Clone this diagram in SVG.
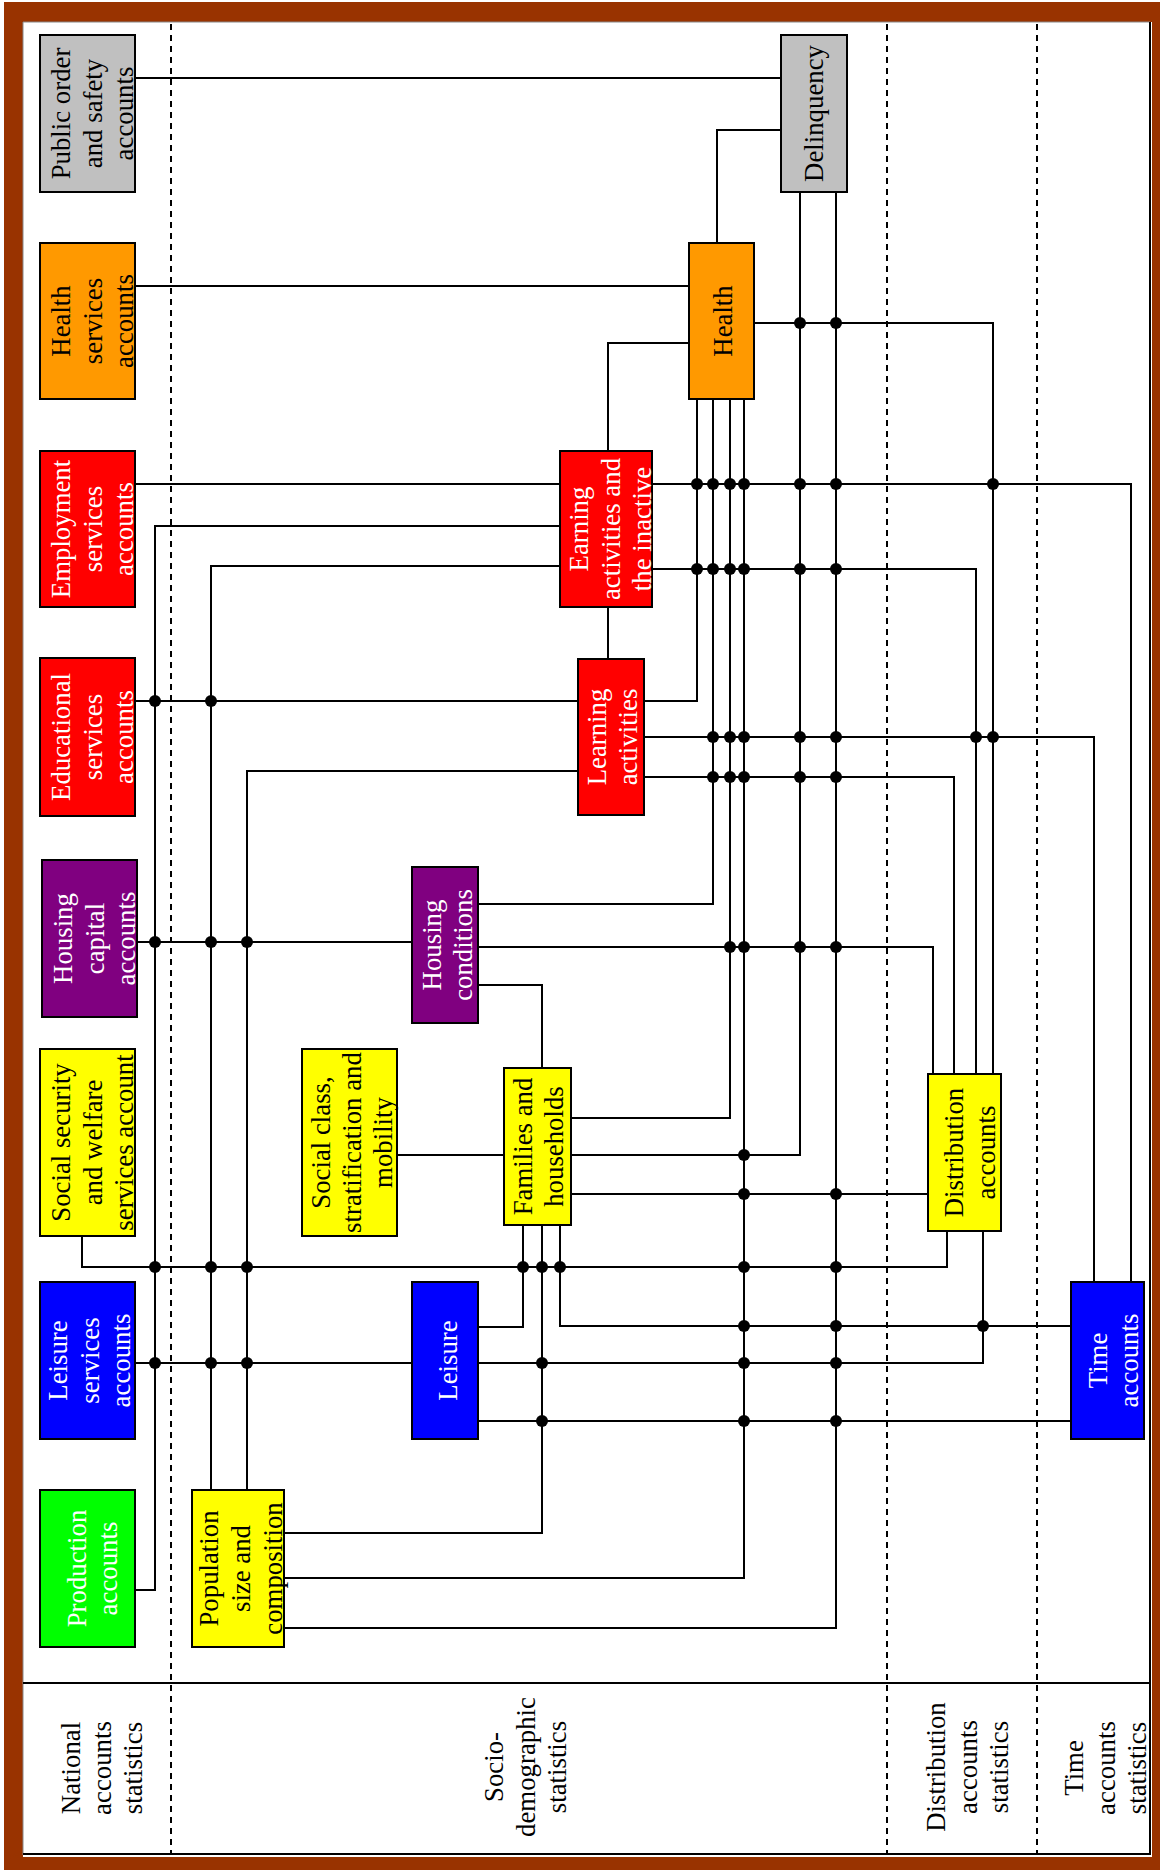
<svg xmlns="http://www.w3.org/2000/svg" width="1163" height="1872" viewBox="0 0 1163 1872">
<style>
.frame{fill:#993300}
.ln{fill:none;stroke:#000;stroke-width:2}
.dash{fill:none;stroke:#000;stroke-width:2;stroke-dasharray:6 5}
.box{stroke:#000;stroke-width:2}
.gray{fill:#C0C0C0}.orange{fill:#FF9900}.red{fill:#FF0000}.purple{fill:#800080}
.yellow{fill:#FFFF00}.blue{fill:#0000FF}.green{fill:#00FF00}
.t{font-family:"Liberation Serif","Times New Roman",serif;font-size:26.8px;text-anchor:middle}
.b{fill:#000}.w{fill:#fff}
.dot{fill:#000}
</style>
<rect class="frame" x="4" y="2" width="1156" height="1868"/>
<rect x="23" y="22" width="1129" height="1835" fill="#fff"/>
<line x1="23" y1="22" x2="1150" y2="22" stroke="#888" stroke-width="1"/>
<line x1="23" y1="22" x2="23" y2="1855" stroke="#888" stroke-width="1"/>
<line class="ln" x1="1150" y1="22" x2="1150" y2="1855"/>
<line class="ln" x1="23" y1="1854" x2="1151" y2="1854"/>
<line class="ln" x1="23" y1="1683" x2="1150" y2="1683"/>
<g id="separators">
<line class="dash" x1="171" y1="24" x2="171" y2="1854"/>
<line class="dash" x1="887" y1="24" x2="887" y2="1854"/>
<line class="dash" x1="1037" y1="24" x2="1037" y2="1854"/>
</g>
<g id="section-labels">
<text class="t b" transform="translate(80,1768) rotate(-90)"><tspan x="0" y="0">National</tspan><tspan x="0" y="31">accounts</tspan><tspan x="0" y="62">statistics</tspan></text>
<text class="t b" transform="translate(503,1767) rotate(-90)"><tspan x="0" y="0">Socio-</tspan><tspan x="0" y="31.5">demographic</tspan><tspan x="0" y="63">statistics</tspan></text>
<text class="t b" transform="translate(945,1767) rotate(-90)"><tspan x="0" y="0">Distribution</tspan><tspan x="0" y="31.5">accounts</tspan><tspan x="0" y="63">statistics</tspan></text>
<text class="t b" transform="translate(1083,1768) rotate(-90)"><tspan x="0" y="0">Time</tspan><tspan x="0" y="31.5">accounts</tspan><tspan x="0" y="63">statistics</tspan></text>
</g>
<g id="connectors">
<path class="ln" d="M135,78 H781"/>
<path class="ln" d="M135,286 H689"/>
<path class="ln" d="M135,484 H1131 V1282"/>
<path class="ln" d="M135,701 H697 V399"/>
<path class="ln" d="M135,1590 H155 V526 H560"/>
<path class="ln" d="M211,1490 V566 H560"/>
<path class="ln" d="M247,1490 V771 H578"/>
<path class="ln" d="M137,942 H412"/>
<path class="ln" d="M82,1236 V1267 H947 V1231"/>
<path class="ln" d="M135,1363 H983 V1231"/>
<path class="ln" d="M717,243 V130 H781"/>
<path class="ln" d="M608,451 V343 H689"/>
<path class="ln" d="M608,607 V659"/>
<path class="ln" d="M754,323 H993 V1074"/>
<path class="ln" d="M652,569 H976 V1074"/>
<path class="ln" d="M644,737 H1094 V1282"/>
<path class="ln" d="M644,777 H954 V1074"/>
<path class="ln" d="M713,399 V904 H478"/>
<path class="ln" d="M730,399 V1118 H571"/>
<path class="ln" d="M744,399 V1578 H284"/>
<path class="ln" d="M397,1155 H800 V192"/>
<path class="ln" d="M836,192 V1628 H284"/>
<path class="ln" d="M478,947 H933 V1074"/>
<path class="ln" d="M478,985 H542 V1068"/>
<path class="ln" d="M571,1194 H928"/>
<path class="ln" d="M523,1225 V1327 H478"/>
<path class="ln" d="M542,1225 V1533 H284"/>
<path class="ln" d="M560,1225 V1326 H1071"/>
<path class="ln" d="M478,1421 H1071"/>
<g id="junctions">
<circle class="dot" cx="800" cy="323" r="6"/><circle class="dot" cx="836" cy="323" r="6"/>
<circle class="dot" cx="697" cy="484" r="6"/><circle class="dot" cx="713" cy="484" r="6"/><circle class="dot" cx="730" cy="484" r="6"/><circle class="dot" cx="744" cy="484" r="6"/><circle class="dot" cx="800" cy="484" r="6"/><circle class="dot" cx="836" cy="484" r="6"/><circle class="dot" cx="993" cy="484" r="6"/>
<circle class="dot" cx="697" cy="569" r="6"/><circle class="dot" cx="713" cy="569" r="6"/><circle class="dot" cx="730" cy="569" r="6"/><circle class="dot" cx="744" cy="569" r="6"/><circle class="dot" cx="800" cy="569" r="6"/><circle class="dot" cx="836" cy="569" r="6"/>
<circle class="dot" cx="155" cy="701" r="6"/><circle class="dot" cx="211" cy="701" r="6"/>
<circle class="dot" cx="713" cy="737" r="6"/><circle class="dot" cx="730" cy="737" r="6"/><circle class="dot" cx="744" cy="737" r="6"/><circle class="dot" cx="800" cy="737" r="6"/><circle class="dot" cx="836" cy="737" r="6"/><circle class="dot" cx="976" cy="737" r="6"/><circle class="dot" cx="993" cy="737" r="6"/>
<circle class="dot" cx="713" cy="777" r="6"/><circle class="dot" cx="730" cy="777" r="6"/><circle class="dot" cx="744" cy="777" r="6"/><circle class="dot" cx="800" cy="777" r="6"/><circle class="dot" cx="836" cy="777" r="6"/>
<circle class="dot" cx="155" cy="942" r="6"/><circle class="dot" cx="211" cy="942" r="6"/><circle class="dot" cx="247" cy="942" r="6"/>
<circle class="dot" cx="730" cy="947" r="6"/><circle class="dot" cx="744" cy="947" r="6"/><circle class="dot" cx="800" cy="947" r="6"/><circle class="dot" cx="836" cy="947" r="6"/>
<circle class="dot" cx="744" cy="1155" r="6"/>
<circle class="dot" cx="744" cy="1194" r="6"/><circle class="dot" cx="836" cy="1194" r="6"/>
<circle class="dot" cx="155" cy="1267" r="6"/><circle class="dot" cx="211" cy="1267" r="6"/><circle class="dot" cx="247" cy="1267" r="6"/><circle class="dot" cx="523" cy="1267" r="6"/><circle class="dot" cx="542" cy="1267" r="6"/><circle class="dot" cx="560" cy="1267" r="6"/><circle class="dot" cx="744" cy="1267" r="6"/><circle class="dot" cx="836" cy="1267" r="6"/>
<circle class="dot" cx="744" cy="1326" r="6"/><circle class="dot" cx="836" cy="1326" r="6"/><circle class="dot" cx="983" cy="1326" r="6"/>
<circle class="dot" cx="155" cy="1363" r="6"/><circle class="dot" cx="211" cy="1363" r="6"/><circle class="dot" cx="247" cy="1363" r="6"/><circle class="dot" cx="542" cy="1363" r="6"/><circle class="dot" cx="744" cy="1363" r="6"/><circle class="dot" cx="836" cy="1363" r="6"/>
<circle class="dot" cx="542" cy="1421" r="6"/><circle class="dot" cx="744" cy="1421" r="6"/><circle class="dot" cx="836" cy="1421" r="6"/>
</g>
</g>
<g id="n-public-order">
<rect class="box gray" x="40" y="35" width="95" height="157"/>
<text class="t b" transform="translate(70,113.5) rotate(-90)"><tspan x="0" y="0">Public order</tspan><tspan x="0" y="31.5">and safety</tspan><tspan x="0" y="63">accounts</tspan></text>
</g>
<g id="n-health-services">
<rect class="box orange" x="40" y="243" width="95" height="156"/>
<text class="t b" transform="translate(70,321) rotate(-90)"><tspan x="0" y="0">Health</tspan><tspan x="0" y="31.5">services</tspan><tspan x="0" y="63">accounts</tspan></text>
</g>
<g id="n-employment">
<rect class="box red" x="40" y="451" width="95" height="156"/>
<text class="t w" transform="translate(70,529) rotate(-90)"><tspan x="0" y="0">Employment</tspan><tspan x="0" y="31.5">services</tspan><tspan x="0" y="63">accounts</tspan></text>
</g>
<g id="n-educational">
<rect class="box red" x="40" y="658" width="95" height="158"/>
<text class="t w" transform="translate(70,737) rotate(-90)"><tspan x="0" y="0">Educational</tspan><tspan x="0" y="31.5">services</tspan><tspan x="0" y="63">accounts</tspan></text>
</g>
<g id="n-housing-capital">
<rect class="box purple" x="42" y="860" width="95" height="157"/>
<text class="t w" transform="translate(72,938.5) rotate(-90)"><tspan x="0" y="0">Housing</tspan><tspan x="0" y="31.5">capital</tspan><tspan x="0" y="63">accounts</tspan></text>
</g>
<g id="n-social-security">
<rect class="box yellow" x="40" y="1049" width="95" height="187"/>
<text class="t b" transform="translate(70,1142.5) rotate(-90)"><tspan x="0" y="0">Social security</tspan><tspan x="0" y="31.5">and welfare</tspan><tspan x="0" y="63">services account</tspan></text>
</g>
<g id="n-leisure-services">
<rect class="box blue" x="40" y="1282" width="95" height="157"/>
<text class="t w" transform="translate(67,1360.5) rotate(-90)"><tspan x="0" y="0">Leisure</tspan><tspan x="0" y="31.5">services</tspan><tspan x="0" y="63">accounts</tspan></text>
</g>
<g id="n-production">
<rect class="box green" x="40" y="1490" width="95" height="157"/>
<text class="t w" transform="translate(86,1568.5) rotate(-90)"><tspan x="0" y="0">Production</tspan><tspan x="0" y="31">accounts</tspan></text>
</g>
<g id="n-population">
<rect class="box yellow" x="192" y="1490" width="92" height="157"/>
<text class="t b" transform="translate(218,1568.5) rotate(-90)"><tspan x="0" y="0">Population</tspan><tspan x="0" y="32">size and</tspan><tspan x="0" y="64">composition</tspan></text>
</g>
<g id="n-social-class">
<rect class="box yellow" x="302" y="1049" width="95" height="187"/>
<text class="t b" transform="translate(330,1142.5) rotate(-90)"><tspan x="0" y="0">Social class,</tspan><tspan x="0" y="31">stratification and</tspan><tspan x="0" y="62">mobility</tspan></text>
</g>
<g id="n-leisure">
<rect class="box blue" x="412" y="1282" width="66" height="157"/>
<text class="t w" transform="translate(457,1360.5) rotate(-90)">Leisure</text>
</g>
<g id="n-housing-conditions">
<rect class="box purple" x="412" y="867" width="66" height="156"/>
<text class="t w" transform="translate(440.5,945) rotate(-90)"><tspan x="0" y="0">Housing</tspan><tspan x="0" y="31.5">conditions</tspan></text>
</g>
<g id="n-families">
<rect class="box yellow" x="504" y="1068" width="67" height="157"/>
<text class="t b" transform="translate(532,1146.5) rotate(-90)"><tspan x="0" y="0">Families and</tspan><tspan x="0" y="31">households</tspan></text>
</g>
<g id="n-learning">
<rect class="box red" x="578" y="659" width="66" height="156"/>
<text class="t w" transform="translate(606,737) rotate(-90)"><tspan x="0" y="0">Learning</tspan><tspan x="0" y="31">activities</tspan></text>
</g>
<g id="n-earning">
<rect class="box red" x="560" y="451" width="92" height="156"/>
<text class="t w" transform="translate(588,529) rotate(-90)"><tspan x="0" y="0">Earning</tspan><tspan x="0" y="31.5">activities and</tspan><tspan x="0" y="63">the inactive</tspan></text>
</g>
<g id="n-health">
<rect class="box orange" x="689" y="243" width="65" height="156"/>
<text class="t b" transform="translate(732,321) rotate(-90)">Health</text>
</g>
<g id="n-delinquency">
<rect class="box gray" x="781" y="35" width="66" height="157"/>
<text class="t b" transform="translate(823,113.5) rotate(-90)">Delinquency</text>
</g>
<g id="n-distribution">
<rect class="box yellow" x="928" y="1074" width="73" height="157"/>
<text class="t b" transform="translate(963,1152.5) rotate(-90)"><tspan x="0" y="0">Distribution</tspan><tspan x="0" y="32">accounts</tspan></text>
</g>
<g id="n-time">
<rect class="box blue" x="1071" y="1282" width="73" height="157"/>
<text class="t w" transform="translate(1107,1360.5) rotate(-90)"><tspan x="0" y="0">Time</tspan><tspan x="0" y="31">accounts</tspan></text>
</g>
</svg>
